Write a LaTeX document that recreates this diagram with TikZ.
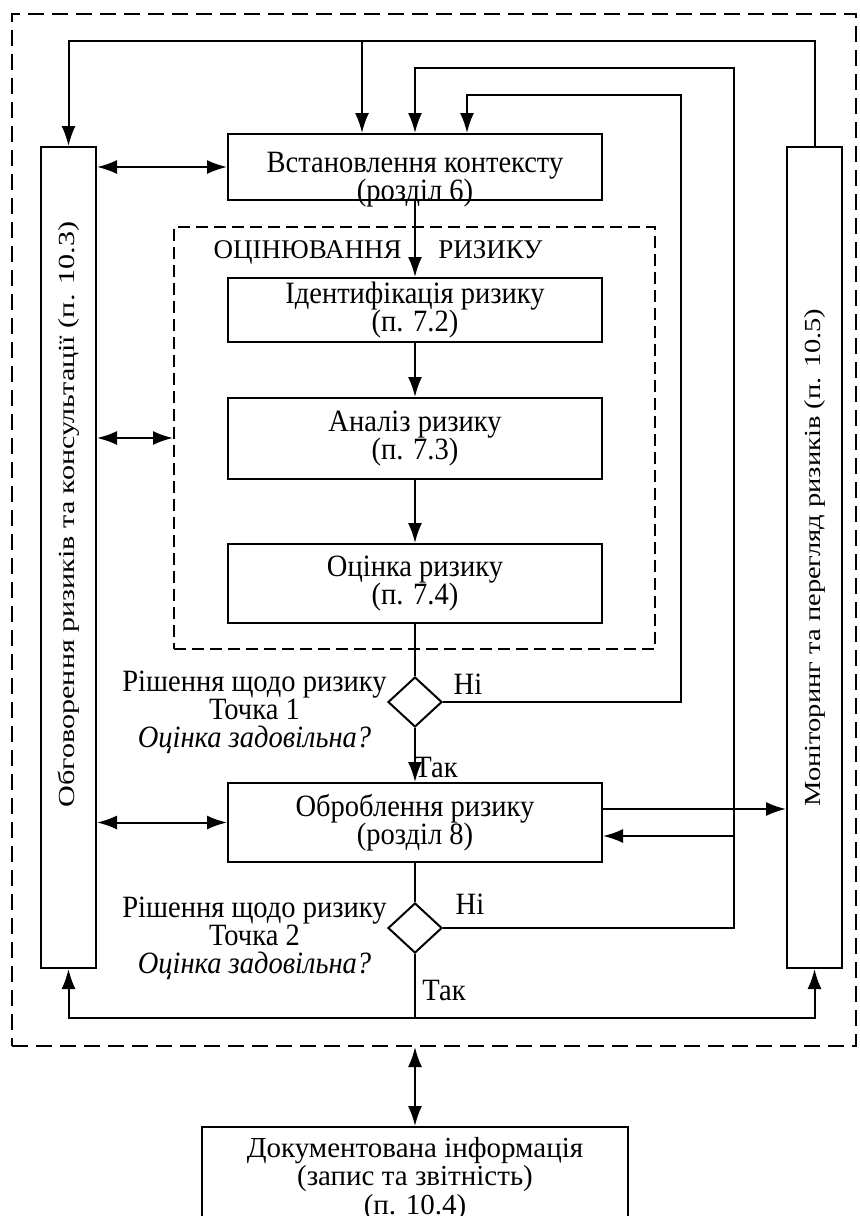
\documentclass[tikz,border=0pt]{standalone}
\usepackage{fontspec}
\setmainfont{Liberation Serif}
\newfontfamily\narrowserif[FakeStretch=0.92]{Liberation Serif}
\newfontfamily\consserif[FakeStretch=1.31]{Liberation Serif}
\newfontfamily\monserif[FakeStretch=1.24]{Liberation Serif}
\newcommand\tightlines{\lineskiplimit-\maxdimen\relax}
\usetikzlibrary{arrows.meta,shapes.geometric,positioning}

\tikzset{
	every node/.style={inner sep=0pt},
	boxfont/.style={font=\narrowserif\fontsize{15.5}{14}\selectfont\tightlines},
	stage/.style={draw,line width=1pt,minimum width=187pt,align=center,boxfont},
	side/.style={draw,line width=1pt,minimum width=27.5pt,minimum height=410.5pt},
	decision/.style={diamond,draw,line width=1pt,minimum width=27pt,minimum height=25pt},
	note/.style={align=center,boxfont},
	zone/.style={draw,line width=1pt,dash pattern=on 8pt off 4pt},
	link/.style={line width=1pt},
	arr/.style={line width=1pt,-{Latex[length=10pt,width=7pt]}},
	twoway/.style={line width=1pt,{Latex[length=10pt,width=7pt]}-{Latex[length=10pt,width=7pt]}}
}

\begin{document}
\begin{tikzpicture}[x=0.5pt,y=-0.5pt]
	\useasboundingbox (0,0) rectangle (860,1216);
	
	\node[zone,minimum width=422pt,minimum height=516pt] (frame) at (434,530) {};
	\node[zone,dash pattern=on 6pt off 3pt,minimum width=240.5pt,minimum height=211pt] (zone) at (414.5,438) {};
	
	\node[side,font=\consserif\fontsize{11.5}{13}\selectfont] (cons) at (68.5,557.5)
		{\rotatebox{90}{\hspace{43pt}Обговорення ризиків та консультації (п. 10.3)}};
	\node[side,font=\monserif\fontsize{11.5}{13}\selectfont] (mon) at (814.5,557.5)
		{\rotatebox{90}{Моніторинг та перегляд ризиків (п. 10.5)}};
	
	\node[stage,minimum height=33pt] (ctx) at (415,167) {};
	\node[note] (ctxtext) at ([yshift=-6.5pt]ctx.center) {Встановлення контексту\\(розділ 6)};
	\node[stage,minimum height=32pt] (ident) at (415,310) {Ідентифікація ризику\\(п. 7.2)};
	\node[stage,minimum height=40.5pt] (anal) at (415,438.5) {Аналіз ризику\\(п. 7.3)};
	\node[stage,minimum height=39.5pt] (eval) at (415,583.5) {Оцінка ризику\\(п. 7.4)};
	\node[decision] (dec1) at (415,702) {};
	\node[stage,minimum height=39.5pt] (treat) at (415,822.5) {Оброблення ризику\\(розділ 8)};
	\node[decision] (dec2) at (415,928) {};
	\node[draw,line width=1pt,minimum width=213pt,minimum height=52pt,anchor=north,align=center,
		font=\fontsize{14.5}{14.25}\selectfont\tightlines] (doc) at (415,1126)
		{Документована інформація\\(запис та звітність)\\(п. 10.4)};
	
	% labels
	\node[font=\fontsize{13.5}{15}\selectfont,anchor=base east] (zoneL) at (402,258) {ОЦІНЮВАННЯ};
	\node[font=\fontsize{13.5}{15}\selectfont,anchor=base west] (zoneR) at (438,258) {РИЗИКУ};
	\node[note,anchor=east] (q1) at ([yshift=-5.2pt]dec1.west) {Рішення щодо ризику\\Точка 1\\\textit{Оцінка задовільна?}};
	\node[note,anchor=east] (q2) at ([yshift=-5.2pt]dec2.west) {Рішення щодо ризику\\Точка 2\\\textit{Оцінка задовільна?}};
	\node[note] (no1) at (468,684) {Ні};
	\node[note] (no2) at (470,904) {Ні};
	\node[note] (yes1) at (436,767) {Так};
	\node[note] (yes2) at (444,990) {Так};
	
	\coordinate (top) at (69,41);
	\coordinate (fbA) at (362,41);
	\coordinate (loopB) at (734,68);
	\coordinate (loopA) at (681,95);
	\coordinate (bot) at (415,1018);
	\coordinate (back) at ([yshift=-6.75pt]treat.east);
	\coordinate (out) at ([yshift=6.75pt]treat.east);
	
	% main flow
	\draw[arr] (ctx) -- (ident);
	\draw[arr] (ident) -- (anal);
	\draw[arr] (anal) -- (eval);
	\draw[link] (eval) -- (dec1);
	\draw[arr] (dec1) -- (treat);
	\draw[link] (treat) -- (dec2);
	\draw[link] (dec2) -- (bot);
	\draw[arr] (bot) -| (cons.south);
	\draw[arr] (bot) -| (mon.south);
	
	% feedback loops
	\draw[arr] (mon.north) -- (mon.north |- top) -| (cons.north);
	\draw[arr] (fbA) -- (fbA |- ctx.north);
	\draw[arr] (dec2.east) -| (loopB) -| (ctx.north);
	\draw[arr] (dec1.east) -| (loopA) -| ([xshift=26pt]ctx.north);
	\draw[arr] (loopB |- back) -- (back);
	\draw[arr] (out) -- (out -| mon.west);
	
	% communication
	\draw[twoway] (cons.east |- ctx.west) -- (ctx.west);
	\draw[twoway] (cons.east |- zone.west) -- (zone.west);
	\draw[twoway] (cons.east |- treat.west) -- (treat.west);
	\draw[twoway] (frame.south -| doc.north) -- (doc.north);
\end{tikzpicture}
\end{document}
